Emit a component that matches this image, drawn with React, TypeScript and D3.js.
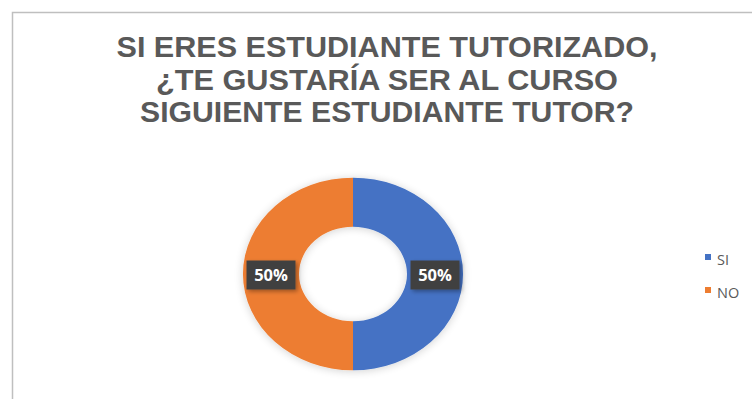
import React from "react";
import * as d3 from "d3";

const categories = ["SI", "NO"];
const values = [50, 50];
const colors = ["#4472C4", "#ED7D31"];
const titleLines = [
  "SI ERES ESTUDIANTE TUTORIZADO,",
  "¿TE GUSTARÍA SER AL CURSO",
  "SIGUIENTE ESTUDIANTE TUTOR?",
];
const titleWidths = [541, 462, 494];

const W = 752;
const H = 399;
const cx = 353;
const cy = 274;
const outerR = 110;
const innerR = 54;
const squash = 0.875;

export default function App() {
  const total = d3.sum(values);
  const pie = d3.pie<number>().sort(null).value((d) => d);
  const arcs = pie(values);
  const arc = d3.arc<d3.PieArcDatum<number>>().innerRadius(innerR).outerRadius(outerR);
  const fmt = d3.format(".0%");

  return (
    <svg
      width={W}
      height={H}
      style={{ position: "absolute", left: 0, top: 0, background: "#fff" }}
      fontFamily="'Liberation Sans', Arial, sans-serif"
    >
      <defs>
        <filter id="glow" x="-30%" y="-30%" width="160%" height="160%">
          <feGaussianBlur in="SourceAlpha" stdDeviation="5" />
          <feOffset dx="0" dy="1" result="b" />
          <feComponentTransfer>
            <feFuncA type="linear" slope="0.18" />
          </feComponentTransfer>
          <feMerge>
            <feMergeNode />
            <feMergeNode in="SourceGraphic" />
          </feMerge>
        </filter>
        <filter id="boxShadow" x="-30%" y="-30%" width="160%" height="160%">
          <feGaussianBlur in="SourceAlpha" stdDeviation="2" />
          <feOffset dx="2" dy="2" result="b" />
          <feComponentTransfer>
            <feFuncA type="linear" slope="0.35" />
          </feComponentTransfer>
          <feMerge>
            <feMergeNode />
            <feMergeNode in="SourceGraphic" />
          </feMerge>
        </filter>
      </defs>

      <rect x={12.5} y={12.5} width={W + 20} height={H + 20} fill="none" stroke="#bfbfbf" strokeWidth={1.5} />

      {titleLines.map((t, i) => (
        <text
          key={i}
          x={387}
          y={57 + i * 32.5}
          textAnchor="middle"
          fontSize={29}
          fontWeight="bold"
          fill="#595959"
          textLength={titleWidths[i]}
          lengthAdjust="spacingAndGlyphs"
        >
          {t}
        </text>
      ))}

      <g transform={`translate(${cx},${cy}) scale(1,${squash})`} filter="url(#glow)">
        {arcs.map((a, i) => (
          <path key={i} d={arc(a) || ""} fill={colors[i]} />
        ))}
      </g>

      {arcs.map((a, i) => {
        const [x, y] = arc.centroid(a);
        const lx = cx + x;
        const ly = cy + y * squash + 1;
        return (
          <g key={i} transform={`translate(${lx},${ly})`}>
            <rect x={-24.5} y={-14.5} width={49} height={29} fill="#404040" filter="url(#boxShadow)" />
            <text
              textAnchor="middle"
              dy="0.36em"
              fontSize={16.5}
              fontWeight="bold"
              fill="#ffffff"
              fontFamily="'Open Sans', sans-serif"
            >
              {fmt(values[i] / total)}
            </text>
          </g>
        );
      })}

      {categories.map((c, i) => (
        <g key={c} transform={`translate(705,${254 + i * 33})`}>
          <rect width={6} height={6} fill={colors[i]} />
          <text x={12} y={10.5} fontSize={14.5} fill="#595959" fontFamily="'Open Sans', sans-serif">
            {c}
          </text>
        </g>
      ))}
    </svg>
  );
}
